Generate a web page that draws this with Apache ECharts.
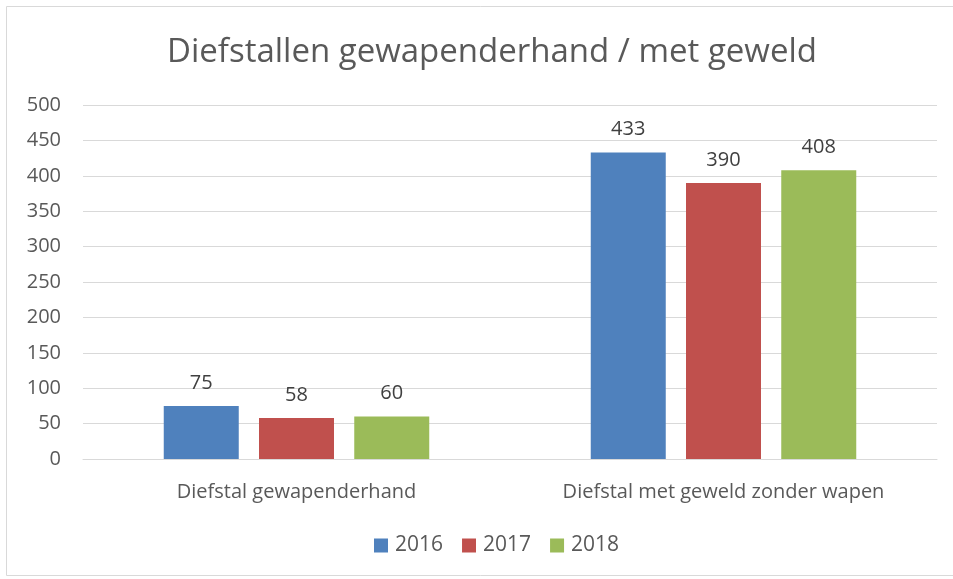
<!DOCTYPE html>
<html>
<head>
<meta charset="utf-8">
<script src="https://cdn.jsdelivr.net/npm/echarts@6/dist/echarts.min.js"></script>
<style>
  html, body { margin: 0; padding: 0; background: #fff; }
  #chart { width: 953px; height: 579px; }
</style>
</head>
<body>
<div id="chart"></div>
<script>
  // categories and yearly counts
  const categories = ['Diefstal gewapenderhand', 'Diefstal met geweld zonder wapen'];
  const years = ['2016', '2017', '2018'];
  const values2016 = [75, 433];
  const values2017 = [58, 390];
  const values2018 = [60, 408];
  const colors = ['#4F81BD', '#C0504D', '#9BBB59'];

  const font = 'Open Sans';
  const chart = echarts.init(document.getElementById('chart'));

  let seriesData = [values2016, values2017, values2018];
  let series = years.map((y, i) => ({
    name: y,
    type: 'bar',
    data: seriesData[i],
    barWidth: 75,
    barGap: '27%',
    itemStyle: { color: colors[i] },
    label: {
      show: true,
      position: 'top',
      distance: 13,
      color: '#404040',
      fontFamily: font,
      fontSize: 20
    }
  }));

  // the chart frame runs past the right edge, so title and legend sit a bit right of centre
  let option = {
    animation: false,
    color: colors,
    graphic: [{
      type: 'rect',
      shape: { x: 6.5, y: 6.5, width: 960, height: 569 },
      style: { fill: 'none', stroke: '#d9d9d9', lineWidth: 1 }
    }],
    title: {
      text: 'Diefstallen gewapenderhand / met geweld',
      left: 162,
      top: 31,
      textStyle: { fontFamily: font, fontSize: 33, fontWeight: 'normal', color: '#595959' }
    },
    legend: {
      data: years,
      bottom: 18,
      left: 369,
      itemWidth: 14,
      itemHeight: 14,
      itemGap: 19,
      icon: 'rect',
      textStyle: { fontFamily: font, fontSize: 21, color: '#595959', padding: [0, 0, 0, 2] }
    },
    grid: { left: 83, right: 16, top: 105, bottom: 120 },
    xAxis: {
      type: 'category',
      data: categories,
      axisTick: { show: false },
      axisLine: { lineStyle: { color: '#d9d9d9' } },
      axisLabel: { fontFamily: font, fontSize: 20, color: '#595959', margin: 23 }
    },
    yAxis: {
      type: 'value',
      min: 0,
      max: 500,
      interval: 50,
      axisLine: { show: false },
      axisTick: { show: false },
      splitLine: { lineStyle: { color: '#d9d9d9', width: 1 } },
      axisLabel: { fontFamily: font, fontSize: 20, color: '#595959', margin: 22 }
    },
    series: series
  };
  chart.setOption(option);
</script>
</body>
</html>
